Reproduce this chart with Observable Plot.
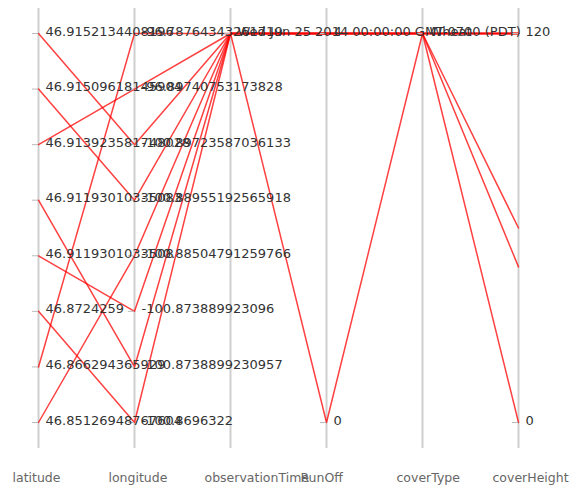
<!DOCTYPE html>
<html>
<head>
<meta charset="utf-8">
<script src="https://cdn.jsdelivr.net/npm/d3@7"></script>
<script src="https://cdn.jsdelivr.net/npm/@observablehq/plot@0.6"></script>
<style>
  body { margin: 0; background: #fff; }
  svg { display: block; }
</style>
</head>
<body>
<div id="chart"></div>
<script>
// Parallel axes, left to right
const dimensions = ["latitude", "longitude", "observationTime", "RunOff", "coverType", "coverHeight"];

// Ordinal axes: tick labels listed from the top of the axis to the bottom
const latitudeTicks = [
  "46.9152134408196", "46.91509618145904", "46.913923581748028", "46.91193010335083",
  "46.9119301033508", "46.8724259", "46.866294365929", "46.85126948767604"
];
const longitudeTicks = [
  "-96.78764343261719", "-96.89740753173828", "-100.89723587036133", "-100.88955192565918",
  "-100.88504791259766", "-100.873889923096", "-100.8738899230957", "-100.8696322"
];
const observationTimeTicks = ["Wed Jun 25 2014 00:00:00 GMT-0700 (PDT)"];
const coverTypeTicks = ["Wheat"];

// Numeric axes: only the extent is labelled
const runOffTicks = [4, 0];
const coverHeightTicks = [120, 0];

// One entry per observation
const latitude = [
  "46.9152134408196", "46.91509618145904", "46.913923581748028", "46.91193010335083",
  "46.9119301033508", "46.8724259", "46.866294365929", "46.85126948767604"
];
const longitude = [
  "-100.89723587036133", "-100.88955192565918", "-96.89740753173828", "-100.8738899230957",
  "-100.873889923096", "-100.8696322", "-96.78764343261719", "-100.88504791259766"
];
const observationTime = [
  "Wed Jun 25 2014 00:00:00 GMT-0700 (PDT)", "Wed Jun 25 2014 00:00:00 GMT-0700 (PDT)",
  "Wed Jun 25 2014 00:00:00 GMT-0700 (PDT)", "Wed Jun 25 2014 00:00:00 GMT-0700 (PDT)",
  "Wed Jun 25 2014 00:00:00 GMT-0700 (PDT)", "Wed Jun 25 2014 00:00:00 GMT-0700 (PDT)",
  "Wed Jun 25 2014 00:00:00 GMT-0700 (PDT)", "Wed Jun 25 2014 00:00:00 GMT-0700 (PDT)"
];
const runOff = [4, 4, 0, 4, 4, 4, 4, 4];
const coverType = ["Wheat", "Wheat", "Wheat", "Wheat", "Wheat", "Wheat", "Wheat", "Wheat"];
const coverHeight = [120, 120, 0, 60, 48, 120, 120, 120];

// Each axis maps its values onto a shared 0 (bottom) .. 1 (top) position
const ordinalAxis = (ticks) => (v) => ticks.length > 1 ? 1 - ticks.indexOf(v) / (ticks.length - 1) : 1;
const linearAxis = (ticks) => { const max = d3.max(ticks); return (v) => v / max; };

const axes = {
  latitude:        {values: latitude,        ticks: latitudeTicks,        pos: ordinalAxis(latitudeTicks)},
  longitude:       {values: longitude,       ticks: longitudeTicks,       pos: ordinalAxis(longitudeTicks)},
  observationTime: {values: observationTime, ticks: observationTimeTicks, pos: ordinalAxis(observationTimeTicks)},
  RunOff:          {values: runOff,          ticks: runOffTicks,          pos: linearAxis(runOffTicks)},
  coverType:       {values: coverType,       ticks: coverTypeTicks,       pos: ordinalAxis(coverTypeTicks)},
  coverHeight:     {values: coverHeight,     ticks: coverHeightTicks,     pos: linearAxis(coverHeightTicks)}
};

const rows = [];
latitude.forEach((_, i) => {
  for (const dim of dimensions) {
    const a = axes[dim];
    rows.push({id: i, dim, pos: a.pos(a.values[i])});
  }
});

const tickRows = [];
for (const dim of dimensions) {
  const a = axes[dim];
  for (const t of a.ticks) tickRows.push({dim, pos: a.pos(t), label: String(t)});
}

const chart = Plot.plot({
  width: 574,
  height: 487,
  marginLeft: 36,
  marginRight: 54,
  marginTop: 8,
  marginBottom: 39,
  style: {fontFamily: "DejaVu Sans", background: "#fff", overflow: "visible"},
  x: {type: "point", domain: dimensions, padding: 0, axis: null},
  y: {domain: [0, 1], insetTop: 25, insetBottom: 26, axis: null},
  marks: [
    Plot.ruleX(dimensions, {x: (d) => d, stroke: "#cfcfcf", strokeWidth: 2}),
    Plot.line(rows, {x: "dim", y: "pos", z: "id", stroke: "#ff0000", strokeOpacity: 0.75, strokeWidth: 1.5}),
    Plot.ruleY(tickRows, {x1: "dim", x2: "dim", y: "pos", insetLeft: -6, stroke: "#bbb", strokeWidth: 1}),
    Plot.text(tickRows, {
      x: "dim", y: "pos", text: "label",
      textAnchor: "start", lineAnchor: "bottom", dx: 7, dy: 2,
      fontSize: 13, fill: "#333"
    }),
    Plot.text(dimensions, {
      x: (d) => d, text: (d) => d, frameAnchor: "bottom",
      textAnchor: "start", lineAnchor: "bottom", dx: -26, dy: 33,
      fontSize: 12.5, fill: "#666"
    })
  ]
});

document.getElementById("chart").append(chart);
</script>
</body>
</html>
